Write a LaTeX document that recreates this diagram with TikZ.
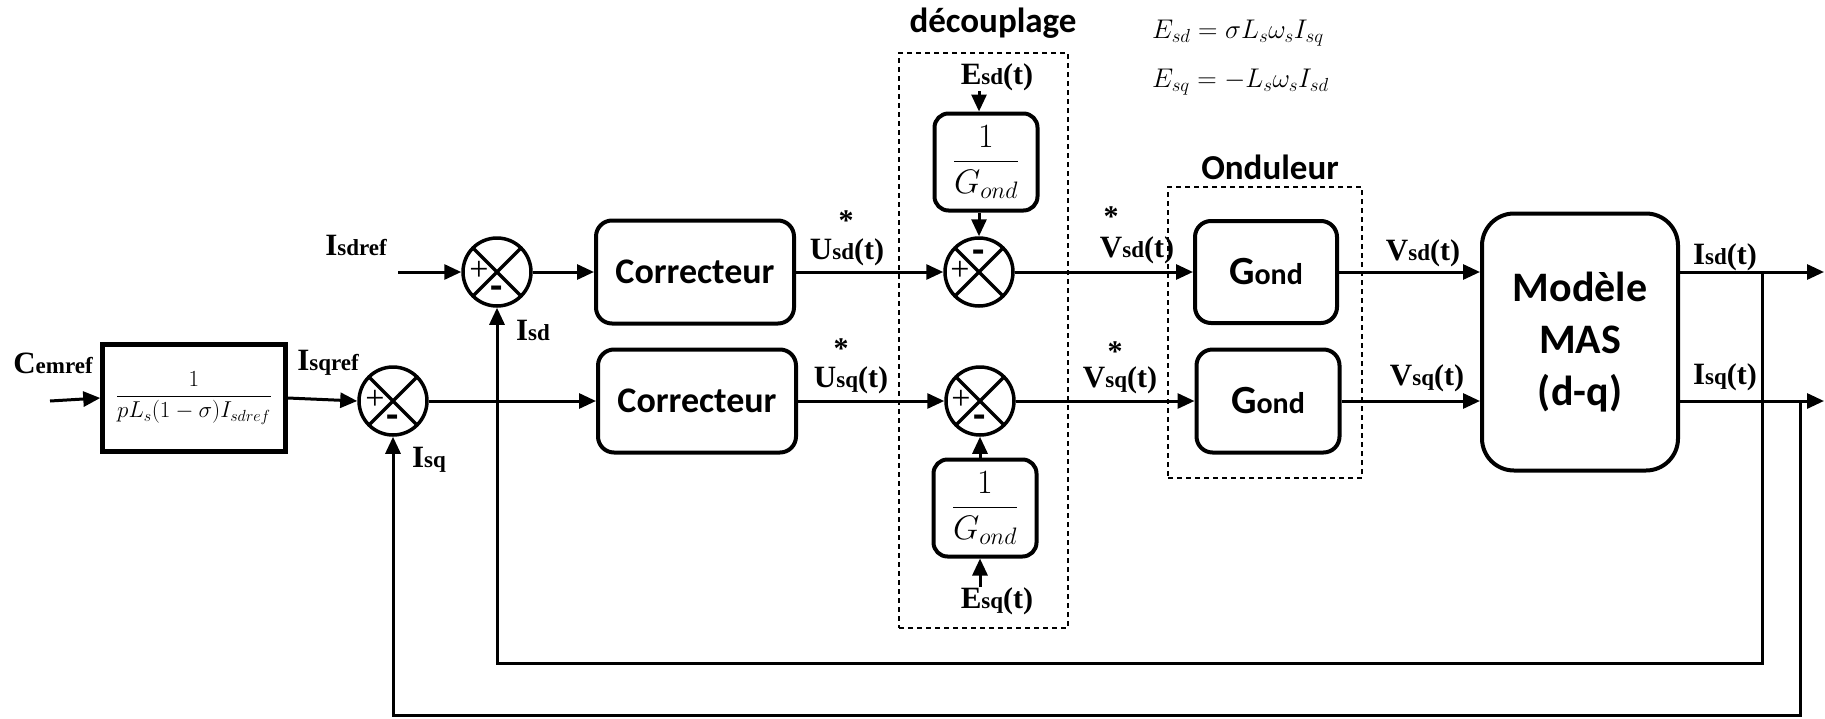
\documentclass[tikz,border=0pt]{standalone}
\usepackage{fix-cm}
\usepackage{amsmath,amssymb}
\usepackage{fontspec}
\setmainfont{Liberation Serif}
\newfontfamily\calib{Carlito}
\usetikzlibrary{arrows.meta,positioning,calc}
\newcommand{\sig}[3]{\bfseries{\fontsize{31}{31}\selectfont #1}{\fontsize{23}{23}\selectfont #2}{\fontsize{30}{30}\selectfont #3}}
\newcommand{\gond}{{\fontsize{40}{40}\selectfont G}{\fontsize{30}{30}\selectfont ond}}
\tikzset{
  bloc/.style={draw, line width=4pt, rounded corners=16pt, align=center, inner sep=0pt, font=\calib\bfseries\fontsize{36}{40}\selectfont},
  boite/.style={draw, line width=4.5pt, align=center, inner sep=0pt, font=\fontsize{23}{26}\selectfont},
  sumo/.style={circle, draw, line width=3.5pt, minimum size=68pt, inner sep=0pt,
    path picture={\draw[line width=3.5pt] (path picture bounding box.north west) -- (path picture bounding box.south east)
      (path picture bounding box.north east) -- (path picture bounding box.south west);}},
  zone/.style={draw, line width=1.3pt, dash pattern=on 5pt off 4pt, inner sep=0pt},
  titre/.style={font=\calib\bfseries\fontsize{35}{40}\selectfont, inner sep=0pt},
  fl/.style={-{Triangle[length=17pt,width=15pt]}, line width=3pt},
  et/.style={inner sep=0pt},
  ast/.style={inner sep=0pt, font=\bfseries\fontsize{30}{30}\selectfont},
  sg/.style={inner sep=0pt, font=\fontsize{34}{34}\selectfont},
  mn/.style={inner sep=0pt, font=\calib\bfseries\fontsize{40}{40}\selectfont},
}

\begin{document}
\begin{tikzpicture}[x=1pt,y=-1pt]
  \useasboundingbox (0,0) rectangle (1825,718);
  % entree et comparateurs
  \node[boite, minimum width=183pt, minimum height=107pt] (cem) at (194,398) {$\dfrac{1}{pL_s(1-\sigma)I_{sdref}}$};
  \node[sumo] (s1) at (497,272) {};
  \node[sumo] (s2) at (393,401) {};
  \node[sg] (p1) at ($(s1)+(-18,-1)$) {+}; \node[mn] (m1) at ($(s1)+(0,21)$) {-};
  \node[sg] (p2) at ($(s2)+(-18,-1)$) {+}; \node[mn] (m2) at ($(s2)+(0,21)$) {-};
  \node[et] (lcem) at (53,363) {\sig{C}{emref}{}};
  \node[et] (lisqref) at (328,363) {\sig{I}{sqref}{}};
  \node[et] (lisdref) at (356,245) {\sig{I}{sdref}{}};
  \node[et] (lisd) at (533,330) {\sig{I}{sd}{}};
  \node[et] (lisq) at (429,460) {\sig{I}{sq}{}};
  \coordinate (incem) at (50,401);
  \coordinate (insd) at (398,272);
  % correcteurs
  \node[bloc, minimum width=198pt, minimum height=103pt] (cord) at (695,272) {Correcteur};
  \node[bloc, minimum width=198pt, minimum height=103pt] (corq) at (697,401) {Correcteur};
  \node[et] (lusd) at (847,252) {\sig{U}{sd}{(t)}};
  \node[ast] (au1) at (846,221) {*};
  \node[et] (lusq) at (851,380) {\sig{U}{sq}{(t)}};
  \node[ast] (au2) at (841,349) {*};
  % decouplage
  \node[zone, minimum width=169pt, minimum height=575pt] (dec) at (983.5,340.5) {};
  \node[titre] (tdec) at (993,23) {découplage};
  \node[anchor=west, inner sep=0pt, font=\fontsize{27}{30}\selectfont] (eq1) at (1152,33) {$E_{sd} = \sigma L_s\omega_s I_{sq}$};
  \node[anchor=west, inner sep=0pt, font=\fontsize{27}{30}\selectfont] (eq2) at (1152,82) {$E_{sq} = -L_s\omega_s I_{sd}$};
  \node[bloc, rounded corners=14pt, minimum width=103pt, minimum height=97pt, font=\fontsize{34}{36}\selectfont] (invd) at (986,162) {$\dfrac{1}{G_{ond}}$};
  \node[bloc, rounded corners=14pt, minimum width=103pt, minimum height=97pt, font=\fontsize{34}{36}\selectfont] (invq) at (985,508) {$\dfrac{1}{G_{ond}}$};
  \node[sumo] (s3) at (979,272) {};
  \node[sumo] (s4) at (980,401) {};
  \node[sg] (p3) at ($(s3)+(-19,-1)$) {+}; \node[mn] (m3) at ($(s3)+(0,-15)$) {-};
  \node[sg] (p4) at ($(s4)+(-19,-1)$) {+}; \node[mn] (m4) at ($(s4)+(0,21)$) {-};
  \node[et] (lesd) at (997,77) {\sig{E}{sd}{(t)}};
  \node[et] (lesq) at (997,601) {\sig{E}{sq}{(t)}};
  \node[et] (lvsd) at (1137,250) {\sig{V}{sd}{(t)}};
  \node[ast] (av1) at (1111,217) {*};
  \node[et] (lvsq) at (1120,380) {\sig{V}{sq}{(t)}};
  \node[ast] (av2) at (1115,352) {*};
  % onduleur
  \node[zone, minimum width=194pt, minimum height=291pt] (ond) at (1265,332.5) {};
  \node[titre] (tond) at (1270,167) {Onduleur};
  \node[bloc, minimum width=142pt, minimum height=102pt] (gd) at (1266,272) {\gond};
  \node[bloc, minimum width=143pt, minimum height=103pt] (gq) at (1268,401) {\gond};
  \node[et] (lvd) at (1423,253) {\sig{V}{sd}{(t)}};
  \node[et] (lvq) at (1427,378) {\sig{V}{sq}{(t)}};
  % machine
  \node[bloc, rounded corners=32pt, minimum width=196pt, minimum height=257pt, font=\calib\bfseries\fontsize{42}{52}\selectfont] (mas) at (1580,342) {Modèle\\MAS\\(d-q)};
  \node[et] (lid) at (1725,257) {\sig{I}{sd}{(t)}};
  \node[et] (liq) at (1725,377) {\sig{I}{sq}{(t)}};
  \coordinate (outd) at (1824,272);
  \coordinate (outq) at (1824,401);
  \coordinate (fd) at (1762,272);
  \coordinate (fq) at (1800,401);
  \coordinate (bd) at (1762,663);
  \coordinate (bq) at (1800,715);
  % liaisons
  \draw[fl] (incem) -- (cem.west);
  \draw[fl] (cem.east) -- (s2.west);
  \draw[fl] (insd) -- (s1.west);
  \draw[fl] (s1.east) -- (cord.west);
  \draw[fl] (s2.east) -- (corq.west);
  \draw[fl] (cord.east) -- (s3.west);
  \draw[fl] (corq.east) -- (s4.west);
  \draw[fl] (lesd.south -| s3.north) -- (s3.north |- invd.north);
  \draw[fl] (s3.north |- invd.south) -- (s3.north);
  \draw[fl] (lesq.north -| s4.south) -- (s4.south |- invq.south);
  \draw[fl] (s4.south |- invq.north) -- (s4.south);
  \draw[fl] (s3.east) -- (gd.west);
  \draw[fl] (s4.east) -- (gq.west);
  \draw[fl] (gd.east) -- (gd.east -| mas.west);
  \draw[fl] (gq.east) -- (gq.east -| mas.west);
  \draw[fl] (mas.east |- outd) -- (outd);
  \draw[fl] (mas.east |- outq) -- (outq);
  \draw[fl] (fd) -- (bd) -| (s1.south);
  \draw[fl] (fq) -- (bq) -| (s2.south);
\end{tikzpicture}
\end{document}
